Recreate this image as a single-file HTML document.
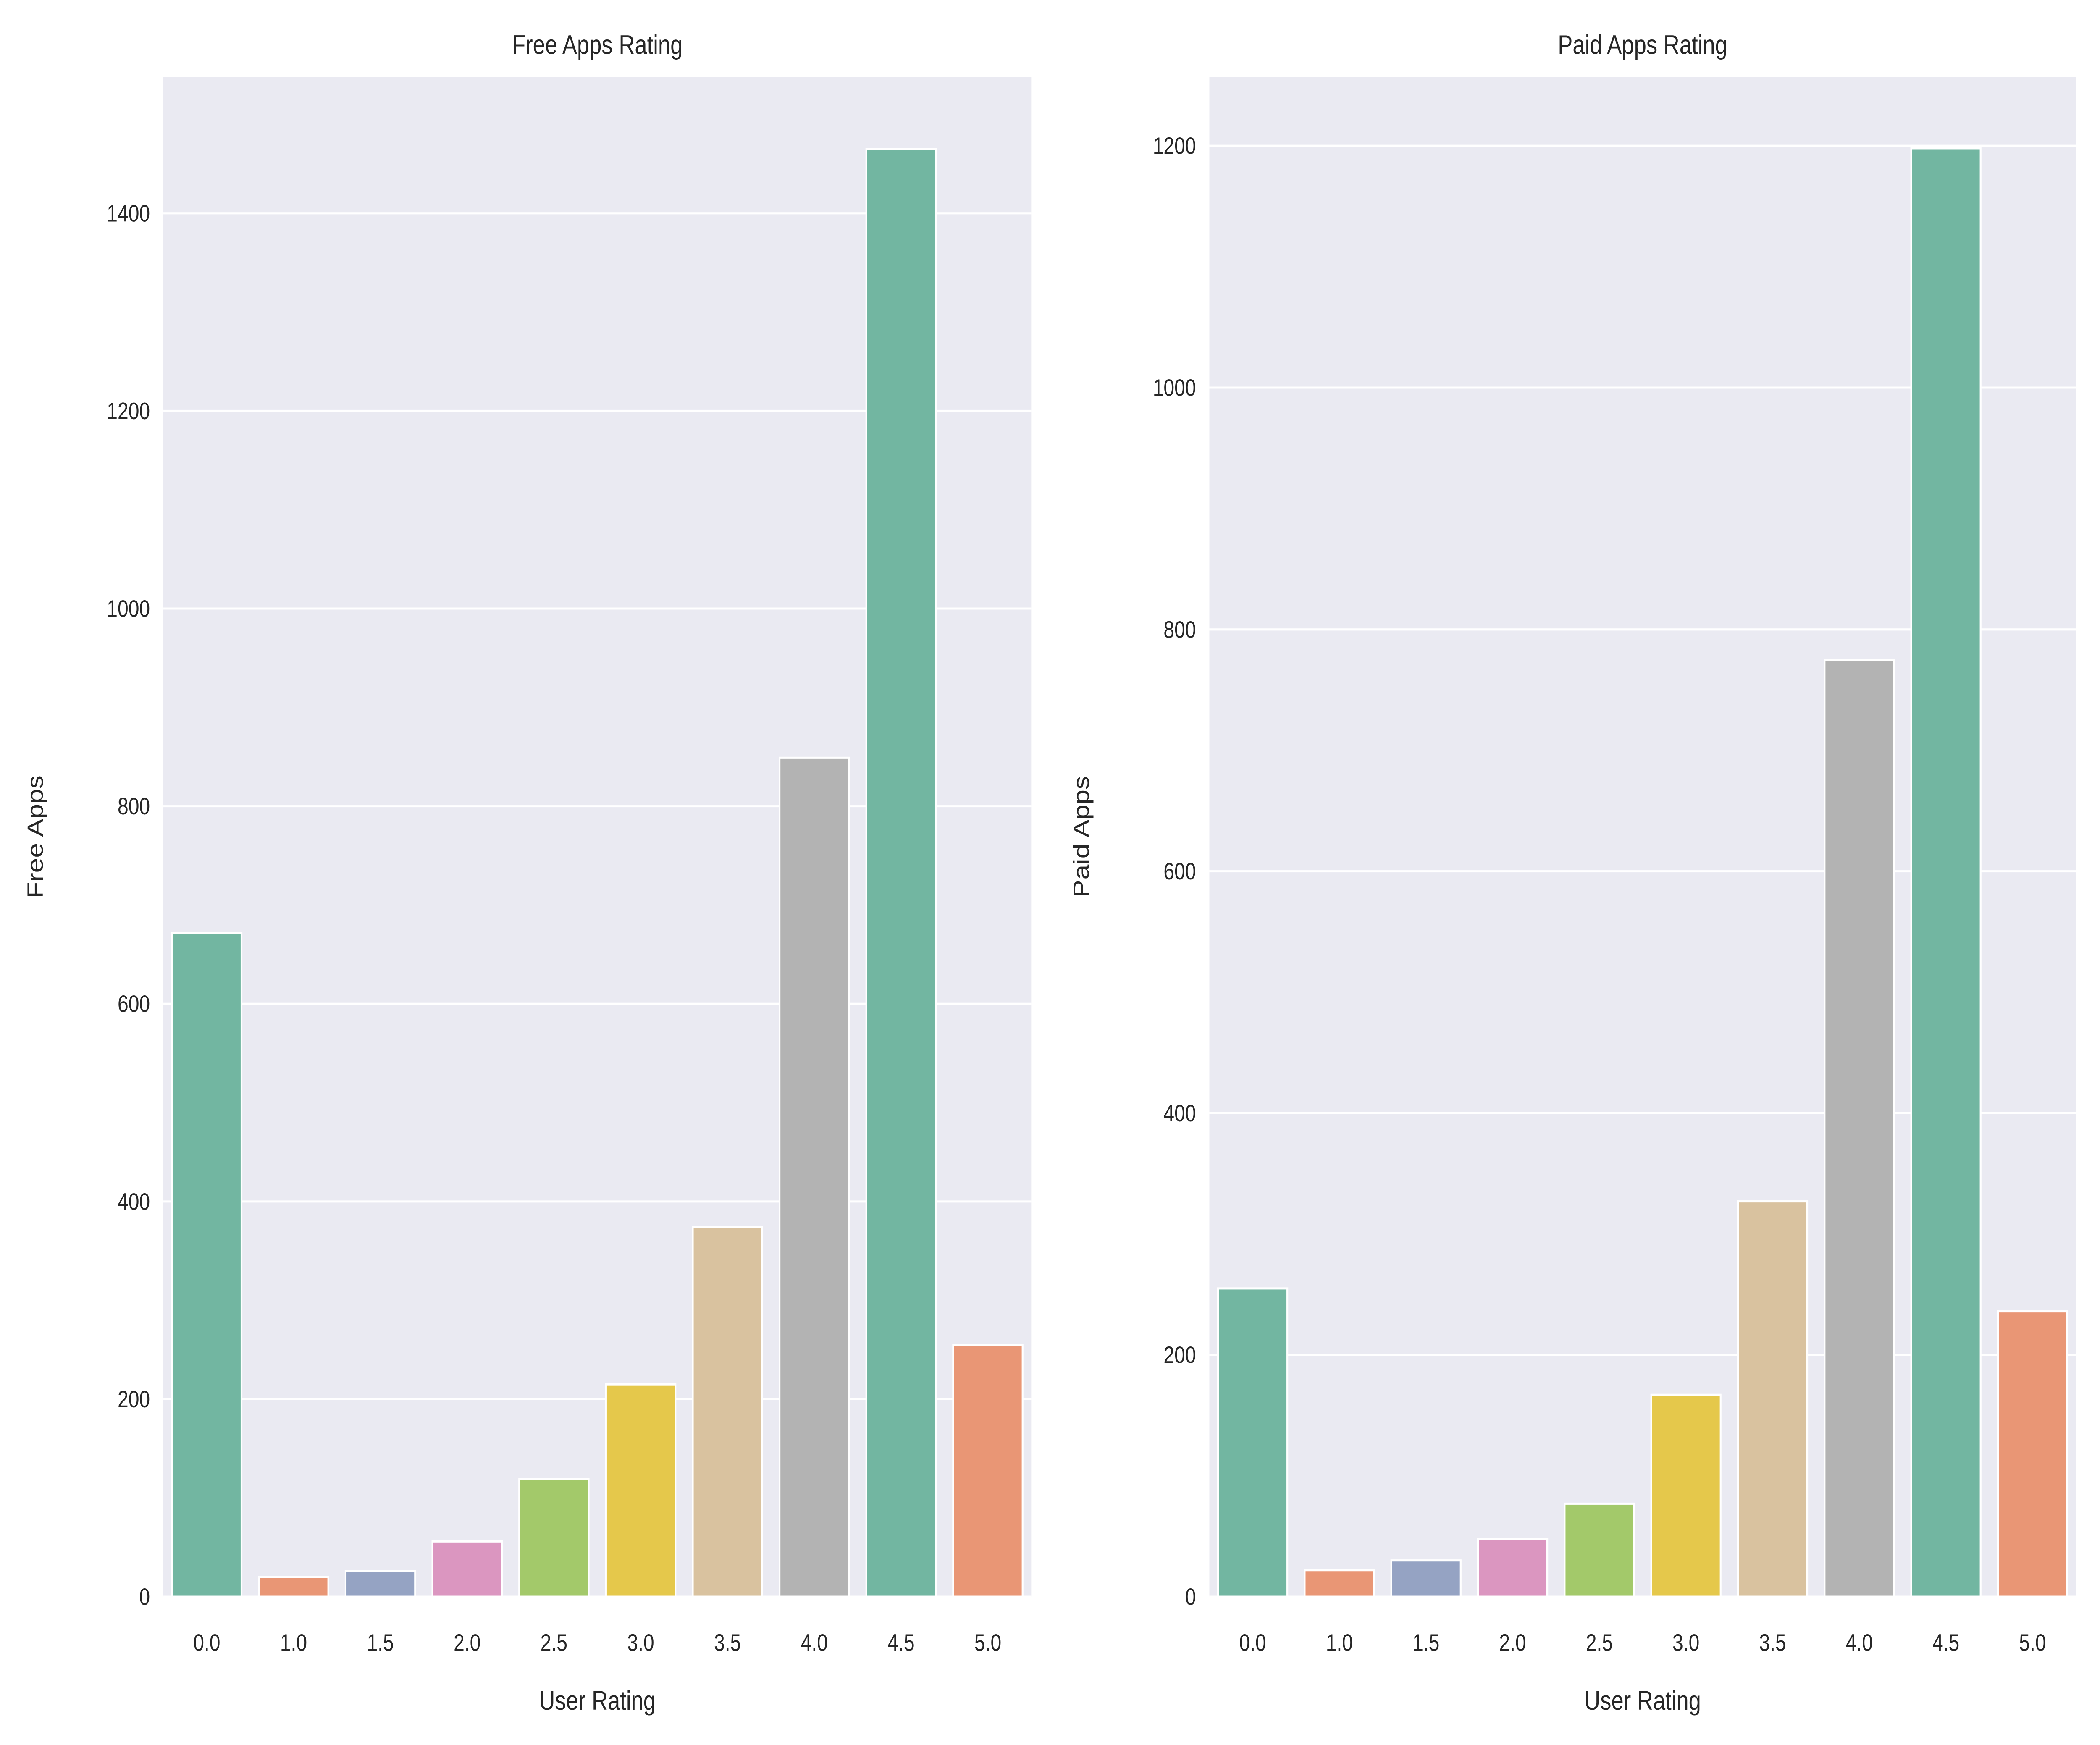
<!DOCTYPE html>
<html><head><meta charset="utf-8"><style>
html,body{margin:0;padding:0;background:#fff;width:100%;height:100%;overflow:hidden;}
svg{display:block;width:100vw;height:100vh;font-family:"Liberation Sans",Arial,sans-serif;}
</style></head><body>
<svg id="chart" viewBox="0 0 1568 1066.6" preserveAspectRatio="none" xmlns="http://www.w3.org/2000/svg"><g id="root"></g></svg>
<script>
const categories = ["0.0","1.0","1.5","2.0","2.5","3.0","3.5","4.0","4.5","5.0"];
const freeValues = [672, 20, 26, 56, 119, 215, 374, 849, 1465, 255];
const paidValues = [255, 22, 30, 48, 77, 167, 327, 775, 1198, 236];
const freeTicks = [0,200,400,600,800,1000,1200,1400];
const paidTicks = [0,200,400,600,800,1000,1200];
const colors = ["#72b6a1","#e99675","#95a3c3","#db96c0","#a3c96a","#e5c84b","#d9c29f","#b3b3b3","#72b6a1","#e99675"];

const NS="http://www.w3.org/2000/svg";
const svg=document.getElementById('root');
function mk(tag,attrs,parent){const e=document.createElementNS(NS,tag);for(const k in attrs)e.setAttribute(k,attrs[k]);(parent||svg).appendChild(e);return e;}

function panel(opts){
  const {x0,x1,y0,y1,ymax,values,ticks,title,ylabel,key}=opts;
  const g=mk('g',{});
  
  
  const bg=mk('rect',{x:x0,y:y0,width:x1-x0,height:y1-y0,fill:'#eaeaf2'},g);
  
  
  const ys=v=>y1-(v/ymax)*(y1-y0);
  const band=(x1-x0)/categories.length;
  const xs=i=>x0+band*(i+0.5);
  ticks.forEach(t=>{
    const ln=mk('line',{x1:x0,x2:x1,y1:ys(t),y2:ys(t),stroke:'#fff','stroke-width':1.3},g);
    
    
    const tx=mk('text',{x:x0-10,y:ys(t)+5,'text-anchor':'end','font-size':14.5,fill:'#262626'},g);
    tx.textContent=t;
    
    
  });
  values.forEach((v,i)=>{
    const w=band*0.8;
    const r=mk('rect',{x:xs(i)-w/2,y:ys(v),width:w,height:y1-ys(v),fill:colors[i],stroke:'#fff','stroke-width':1.3},g);
    
    
    const tx=mk('text',{x:xs(i),y:y1+33,'text-anchor':'middle','font-size':14.5,fill:'#262626'},g);
    tx.textContent=categories[i];
    
    
  });
  const tt=mk('text',{x:(x0+x1)/2,y:y0-14,'text-anchor':'middle','font-size':16.5,fill:'#262626'},g);
  tt.textContent=title;
  
  
  const xl=mk('text',{x:(x0+x1)/2,y:y1+69,'text-anchor':'middle','font-size':16.5,fill:'#262626'},g);
  xl.textContent='User Rating';
  
  
  const yc=(y0+y1)/2;
  const lx=x0-90;
  const yl=mk('text',{x:lx,y:yc,'text-anchor':'middle','font-size':16.5,fill:'#262626',transform:'rotate(-90 '+lx+' '+yc+')'},g);
  yl.textContent=ylabel;
  
  
}
panel({x0:122,x1:770,y0:47,y1:976,ymax:1538,values:freeValues,ticks:freeTicks,title:'Free Apps Rating',ylabel:'Free Apps',key:'free'});
panel({x0:903,x1:1550,y0:47,y1:976,ymax:1257,values:paidValues,ticks:paidTicks,title:'Paid Apps Rating',ylabel:'Paid Apps',key:'paid'});
</script>
</body></html>
